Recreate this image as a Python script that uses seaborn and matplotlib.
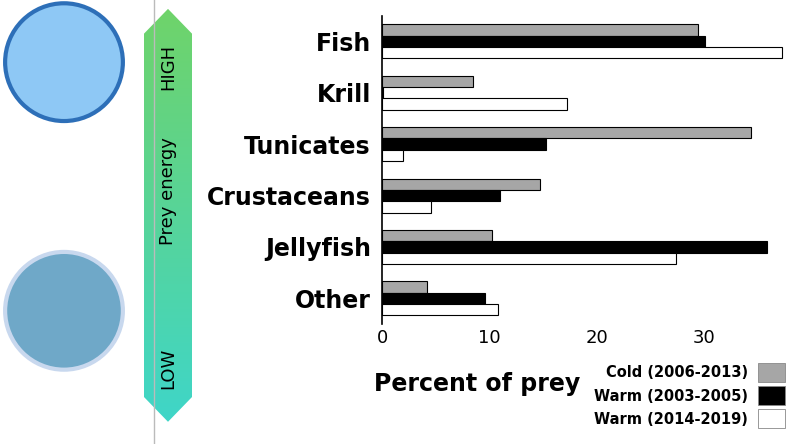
import matplotlib.pyplot as plt
import matplotlib.patches as mpatches
import numpy as np
import pandas as pd
import seaborn as sns

categories = ["Fish", "Krill", "Tunicates", "Crustaceans", "Jellyfish", "Other"]
periods = ["Cold (2006-2013)", "Warm (2003-2005)", "Warm (2014-2019)"]
cold = [29.4, 8.5, 34.4, 14.7, 10.2, 4.2]
warm_early = [30.1, 0.1, 15.3, 11.0, 35.9, 9.6]
warm_late = [37.3, 17.2, 2.0, 4.6, 27.4, 10.8]
colors = ["#a6a6a6", "#000000", "#ffffff"]

rows = []
for series, vals in zip(periods, [cold, warm_early, warm_late]):
    for c, v in zip(categories, vals):
        rows.append({"prey": c, "period": series, "pct": v})
df = pd.DataFrame(rows)

fig = plt.figure(figsize=(8, 4.44), dpi=100)
ax = fig.add_axes([0.4775, 0.27, 0.51, 0.695])
sns.barplot(data=df, y="prey", x="pct", hue="period", order=categories,
            hue_order=periods, palette=colors, width=0.66, edgecolor="black",
            linewidth=0.8, ax=ax, legend=False)
ax.set_xlim(0, 38)
ax.set_xticks([0, 10, 20, 30])
ax.tick_params(axis="x", labelsize=13, length=0)
ax.tick_params(axis="y", labelsize=17, length=0, pad=8)
for t in ax.get_yticklabels():
    t.set_fontweight("bold")
for s in ["top", "right", "bottom"]:
    ax.spines[s].set_visible(False)
ax.spines["left"].set_linewidth(1.2)
ax.set_ylabel("")
ax.set_xlabel("")
fig.text(0.467, 0.12, "Percent of prey", fontsize=17, fontweight="bold")

# legend
for i, (lab, col) in enumerate(zip(periods, colors)):
    y = 0.16 - i * 0.052
    fig.text(0.935, y, lab, fontsize=10.5, fontweight="bold", ha="right", va="center")
    fig.patches.append(mpatches.Rectangle((0.947, y - 0.02), 0.034, 0.042, transform=fig.transFigure,
                                          facecolor=col, edgecolor="#888888", lw=0.6))

# frame line
fig.add_artist(plt.Line2D([0.193, 0.193], [0.0, 1.0], color="#bbbbbb", lw=1))

# gradient arrow
axg = fig.add_axes([0.18, 0.05, 0.06, 0.93])
grad = np.linspace(0, 1, 200).reshape(-1, 1)
cmap = sns.blend_palette(["#6fd36a", "#3fd6c8"], as_cmap=True)
im = axg.imshow(grad, aspect="auto", cmap=cmap, extent=[0, 1, 0, 1])
clip = mpatches.Polygon([[0.5, 1.0], [0.0, 0.94], [0.0, 0.06], [0.5, 0.0], [1.0, 0.06], [1.0, 0.94]],
                        transform=axg.transData)
im.set_clip_path(clip)
axg.set_xlim(0, 1)
axg.set_ylim(0, 1)
axg.axis("off")
axg.text(0.5, 0.86, "HIGH", rotation=90, ha="center", va="center", fontsize=13)
axg.text(0.5, 0.56, "Prey energy", rotation=90, ha="center", va="center", fontsize=13)
axg.text(0.5, 0.13, "LOW", rotation=90, ha="center", va="center", fontsize=13)

# icons
for cy, fc, ec in [(0.86, "#8ec8f5", "#2d6fb8"), (0.3, "#6fa8c8", "#c8d8ee")]:
    axi = fig.add_axes([0.0, cy - 0.155, 0.16, 0.31])
    axi.add_patch(mpatches.Circle((0.5, 0.5), 0.46, facecolor=fc, edgecolor=ec, lw=3))
    axi.set_xlim(0, 1)
    axi.set_ylim(0, 1)
    axi.set_aspect("equal")
    axi.axis("off")

fig.savefig("out.png", dpi=100)
